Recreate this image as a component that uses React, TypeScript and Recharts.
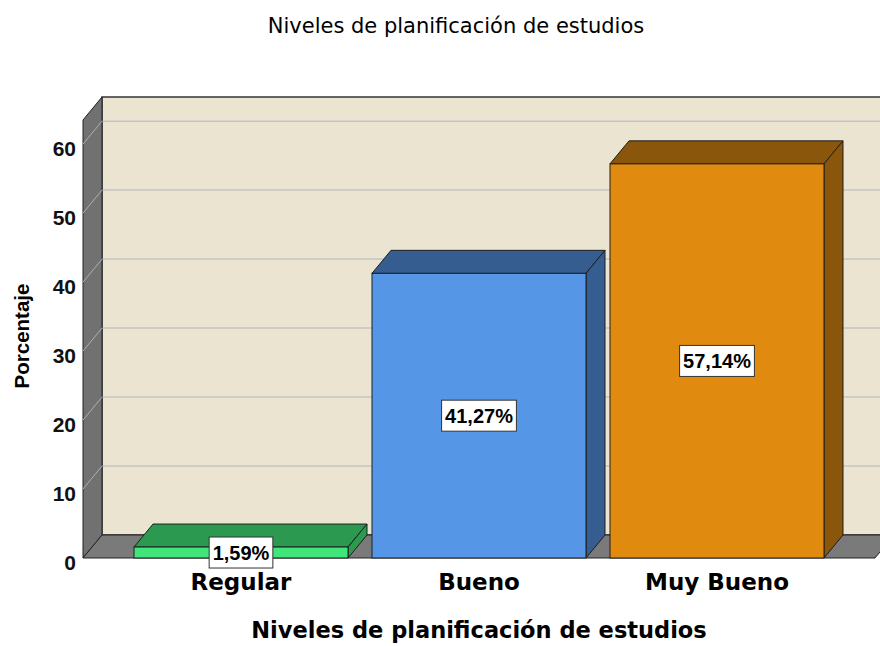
import { Bar, BarChart, Label, LabelList, ReferenceArea, XAxis, YAxis } from "recharts";

const categories = ["Regular", "Bueno", "Muy Bueno"];
const percentages = [1.59, 41.27, 57.14];
const yTicks = [0, 10, 20, 30, 40, 50, 60];
const yMax = 63.5;

const chartTitle = "Niveles de planificación de estudios";
const xTitle = "Niveles de planificación de estudios";
const yTitle = "Porcentaje";

// colours: front face / top+side face
const FRONT = ["#40e67a", "#5596e6", "#e08a10"];
const SHADE = ["#2b9a50", "#355d8f", "#8a560b"];
const EDGE = "#1e1e1e";

// 3D depth offset and category padding
const DX = 19;
const DY = 23;
const PAD = 39;

const data = categories.map((name, i) => ({ name, value: percentages[i] }));

const numFont = "'Liberation Sans', Arial, sans-serif";
const titleFont = "'DejaVu Sans', sans-serif";

function Walls(props: any) {
  const { y, height } = props;
  // reference area spans the padded range, walls span the full plot
  const x = props.x - PAD;
  const width = props.width + 2 * PAD;
  const bottom = y + height;
  const right = x + width;
  const toPx = (v: number) => bottom - (v / yMax) * height;
  return (
    <g>
      <rect x={x + DX} y={y - DY} width={width} height={height} fill="#eae4d1" stroke="#333" strokeWidth={1.5} />
      {yTicks.slice(1).map((v) => (
        <line key={"g" + v} x1={x + DX} x2={right + DX} y1={toPx(v) - DY} y2={toPx(v) - DY} stroke="#c4c4c4" strokeWidth={1.5} />
      ))}
      <polygon
        points={`${x},${y} ${x + DX},${y - DY} ${x + DX},${bottom - DY} ${x},${bottom}`}
        fill="#717171"
        stroke="#222"
      />
      {yTicks.slice(1).map((v) => (
        <line key={"d" + v} x1={x} y1={toPx(v)} x2={x + DX} y2={toPx(v) - DY} stroke="#b0b0b0" />
      ))}
      <polygon
        points={`${x},${bottom} ${right},${bottom} ${right + DX},${bottom - DY} ${x + DX},${bottom - DY}`}
        fill="#7a7a7a"
        stroke="#222"
      />
    </g>
  );
}

function Bar3D(props: any) {
  const { x, y, width, height, index } = props;
  const r = x + width;
  const b = y + height;
  return (
    <g>
      <polygon points={`${x},${y} ${x + DX},${y - DY} ${r + DX},${y - DY} ${r},${y}`} fill={SHADE[index]} stroke={EDGE} />
      <polygon points={`${r},${y} ${r + DX},${y - DY} ${r + DX},${b - DY} ${r},${b}`} fill={SHADE[index]} stroke={EDGE} />
      <rect x={x} y={y} width={width} height={height} fill={FRONT[index]} stroke={EDGE} />
    </g>
  );
}

function ValueTag(props: any) {
  const { x, y, width, height, value } = props;
  const text = value.toFixed(2).replace(".", ",") + "%";
  let w = 0;
  for (const ch of text) w += ch === "," ? 0.278 : ch === "%" ? 0.889 : 0.556;
  const boxW = w * 20 + 7;
  const cx = x + width / 2;
  const cy = y + height / 2;
  return (
    <g>
      <rect x={cx - boxW / 2} y={cy - 15.5} width={boxW} height={31} fill="#ffffff" stroke="#333" />
      <text x={cx} y={cy + 7} textAnchor="middle" fontFamily={numFont} fontWeight="bold" fontSize={20} fill="#000">
        {text}
      </text>
    </g>
  );
}

function YTick(props: any) {
  const { x, y, payload } = props;
  return (
    <text x={x + 1} y={y + 11.5} textAnchor="end" fontFamily={numFont} fontWeight="bold" fontSize={21} fill="#111">
      {payload.value}
    </text>
  );
}

function XTick(props: any) {
  const { x, y, payload } = props;
  return (
    <text x={x} y={y + 24} textAnchor="middle" fontFamily={titleFont} fontWeight="bold" fontSize={23} fill="#000">
      {payload.value}
    </text>
  );
}

export default function App() {
  return (
    <div style={{ position: "absolute", left: 0, top: 0, width: 880, height: 646, background: "#fff" }}>
      <svg width={880} height={50} style={{ position: "absolute", left: 0, top: 0 }}>
        <text x={456} y={33} textAnchor="middle" fontFamily={titleFont} fontSize={21} fill="#000">
          {chartTitle}
        </text>
      </svg>
      <div style={{ position: "absolute", left: 0, top: 0 }}>
        <BarChart width={880} height={646} data={data} margin={{ top: 120, right: 5, left: 0, bottom: 0 }}>
          <XAxis
            dataKey="name"
            axisLine={false}
            tickLine={false}
            interval={0}
            height={88}
            padding={{ left: PAD, right: PAD }}
            tick={<XTick />}
          >
            <Label
              content={(p: any) => (
                <text
                  x={p.viewBox.x + p.viewBox.width / 2}
                  y={p.viewBox.y + 80}
                  textAnchor="middle"
                  fontFamily={titleFont}
                  fontWeight="bold"
                  fontSize={22.5}
                  fill="#000"
                >
                  {xTitle}
                </text>
              )}
            />
          </XAxis>
          <YAxis
            domain={[0, yMax]}
            ticks={yTicks}
            width={83}
            axisLine={false}
            tickLine={false}
            tick={<YTick />}
          >
            <Label
              content={(p: any) => (
                <text
                  transform={`translate(28.5, ${p.viewBox.y + p.viewBox.height / 2 - 3}) rotate(-90)`}
                  textAnchor="middle"
                  fontFamily={numFont}
                  fontWeight="bold"
                  fontSize={20.5}
                  fill="#000"
                >
                  {yTitle}
                </text>
              )}
            />
          </YAxis>
          <ReferenceArea y1={0} y2={yMax} shape={<Walls />} />
          <Bar dataKey="value" barSize={214} shape={<Bar3D />} isAnimationActive={false}>
            <LabelList dataKey="value" content={<ValueTag />} />
          </Bar>
        </BarChart>
      </div>
    </div>
  );
}
